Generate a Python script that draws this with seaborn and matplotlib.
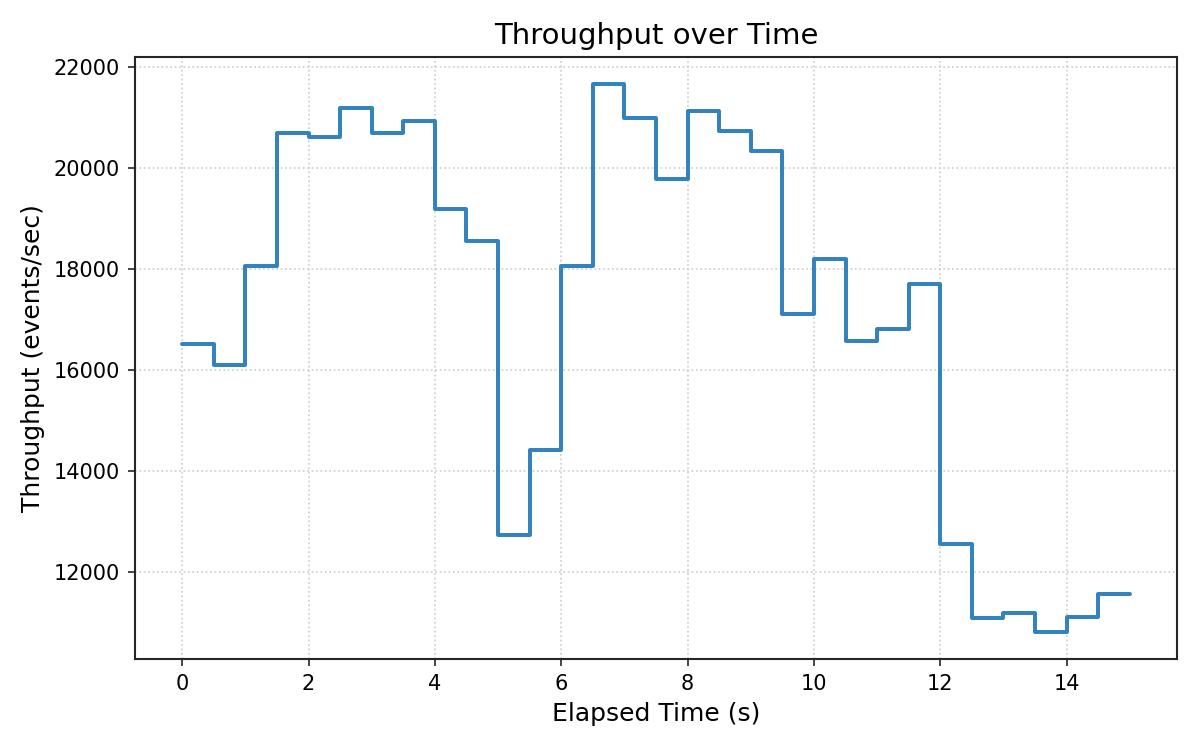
import matplotlib
matplotlib.use("Agg")
import pandas as pd
import matplotlib.pyplot as plt
import seaborn as sns

# elapsed time (s), one sample every half second; last value held to t=15
elapsed_time = [0.0, 0.5, 1.0, 1.5, 2.0, 2.5, 3.0, 3.5, 4.0, 4.5,
                5.0, 5.5, 6.0, 6.5, 7.0, 7.5, 8.0, 8.5, 9.0, 9.5,
                10.0, 10.5, 11.0, 11.5, 12.0, 12.5, 13.0, 13.5, 14.0, 14.5, 15.0]
throughput = [16500, 16100, 18060, 20700, 20620, 21180, 20700, 20920, 19190, 18550,
              12730, 14400, 18050, 21660, 20990, 19770, 21130, 20740, 20340, 17110,
              18200, 16560, 16800, 17690, 12550, 11090, 11170, 10810, 11110, 11550, 11550]

df = pd.DataFrame({"Elapsed Time (s)": elapsed_time, "Throughput": throughput})

sns.set_style("ticks", {"axes.grid": True, "grid.linestyle": ":", "grid.color": "#cccccc"})
plt.rcParams['font.family'] = ['DejaVu Sans']
plt.rcParams['text.color'] = 'black'
plt.rcParams['axes.labelcolor'] = 'black'

fig, ax = plt.subplots(figsize=(8, 5), dpi=150)
sns.lineplot(data=df, x="Elapsed Time (s)", y="Throughput", ax=ax,
             drawstyle="steps-post", color="#3182bd", linewidth=1.9)

ax.grid(True, linestyle=":", color="#cccccc", linewidth=0.8)
ax.set_title("Throughput over Time", fontsize=14, color="black")
ax.set_xlabel("Elapsed Time (s)", fontsize=12)
ax.set_ylabel("Throughput (events/sec)", fontsize=12)
ax.tick_params(labelsize=10, colors="#262626", labelcolor="black")
for s in ax.spines.values():
    s.set_color("#262626")
    s.set_linewidth(1.0)

fig.subplots_adjust(left=0.1123, right=0.981, bottom=0.1213, top=0.9244)
plt.savefig("out.png", dpi=150)
